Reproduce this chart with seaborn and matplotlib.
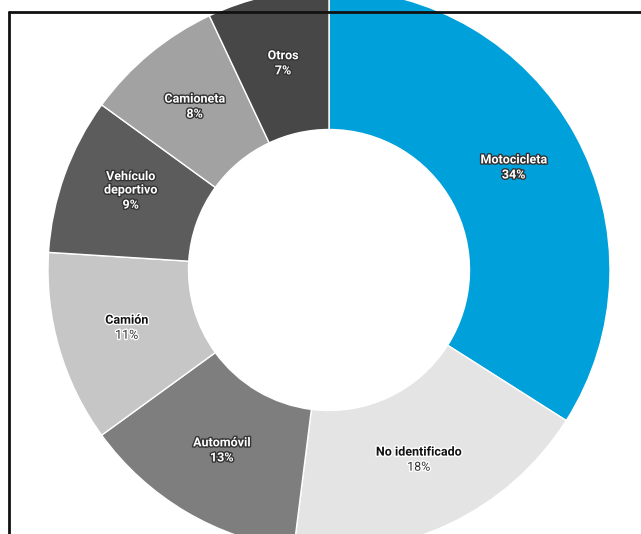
import matplotlib
matplotlib.use("Agg")
import matplotlib.pyplot as plt
import matplotlib.patheffects as pe
from matplotlib.lines import Line2D
import numpy as np
import seaborn as sns

labels = ["Motocicleta", "No identificado", "Automóvil", "Camión",
          "Vehículo\ndeportivo", "Camioneta", "Otros"]
values = [34, 18, 13, 11, 9, 8, 7]
colors = ["#00a0db", "#e4e4e4", "#7e7e7e", "#c6c6c6", "#5c5c5c", "#a2a2a2", "#474747"]
light_text = [True, False, True, False, True, True, True]

sns.set_theme(style="white")
plt.rcParams['font.family'] = ['Roboto', 'DejaVu Sans']

fig = plt.figure(figsize=(6.41, 5.34), dpi=100)
fig.patch.set_facecolor("white")

W, H = 641, 534
cx, cy, R = 329, 270, 281  # pixel centre / radius of the donut
left, top = 8, 13
ax = fig.add_axes([left / W, 0, (W - left) / W, (H - top) / H])
ax.set_facecolor("white")

wedges, _ = ax.pie(values, colors=colors, startangle=90, counterclock=False,
                   radius=1.0, wedgeprops=dict(width=0.5, edgecolor="white", linewidth=1))

total = sum(values)
cum = 0
for lab, v, light in zip(labels, values, light_text):
    mid = np.deg2rad(90 - (cum + v / 2) / total * 360)
    cum += v
    r = 0.75
    x, y = r * np.cos(mid), r * np.sin(mid)
    if light:
        fc, pc = "white", "white"
        fx = [pe.withStroke(linewidth=2, foreground="#333333")]
        pw = "bold"
    else:
        fc, pc = "#111111", "#333333"
        fx = [pe.withStroke(linewidth=2, foreground="white")]
        pw = "normal"
    ax.annotate(lab, (x, y), xytext=(0, 1.5), textcoords="offset points",
                ha="center", va="bottom", fontsize=9, fontweight="bold",
                color=fc, path_effects=fx, linespacing=1.05)
    ax.annotate(f"{v}%", (x, y), xytext=(0, 0), textcoords="offset points",
                ha="center", va="top", fontsize=9, fontweight=pw,
                color=pc, path_effects=fx)

ax.set_aspect("auto")
ax.set_xlim((left - cx) / R, (W - cx) / R)
ax.set_ylim(-(H - cy) / R, (cy - top) / R)
ax.set_axis_off()

# frame lines (left and top) like the screenshot border
fx0, fy0 = 8.5 / W, 1 - 12 / H
fig.add_artist(Line2D([fx0, fx0], [0, fy0], color="#111111", lw=2, transform=fig.transFigure))
fig.add_artist(Line2D([fx0, 1], [fy0, fy0], color="#111111", lw=2, transform=fig.transFigure))

fig.savefig("out.png", dpi=100)
plt.close(fig)
